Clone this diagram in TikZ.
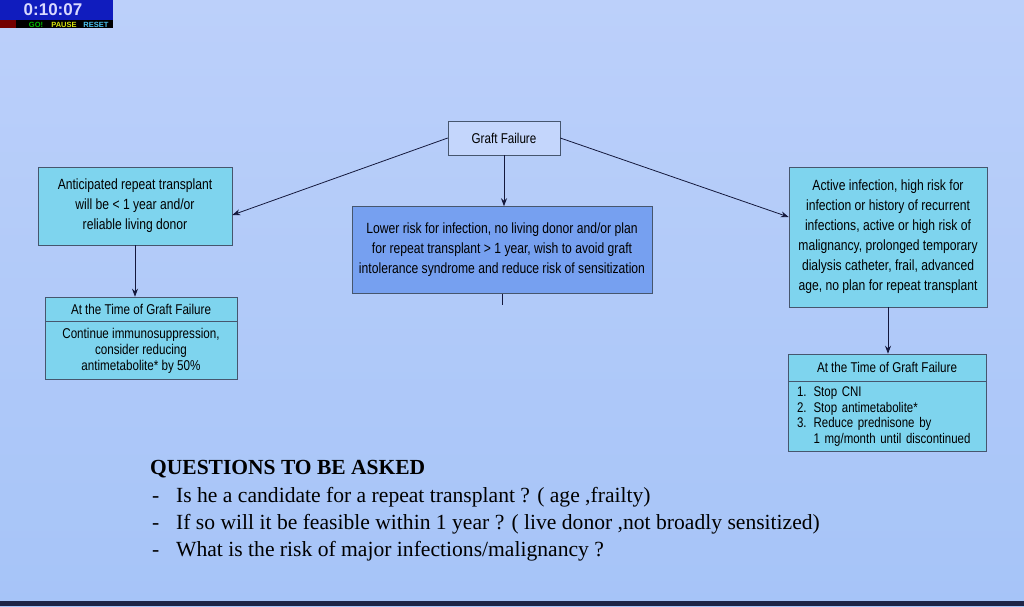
\documentclass[tikz,border=0pt]{standalone}
\usepackage{fontspec}
\setmainfont{Liberation Serif}
\newfontfamily\boxfont[FakeStretch=0.82]{Liberation Sans}
\newfontfamily\clockfont{Liberation Sans}
\usetikzlibrary{positioning,arrows.meta}

\definecolor{slidetop}{RGB}{188,208,250}
\definecolor{slidebot}{RGB}{166,196,248}
\definecolor{slideedge}{RGB}{30,36,70}
\definecolor{boxline}{RGB}{70,86,110}
\definecolor{boxcyan}{RGB}{126,212,238}
\definecolor{boxblue}{RGB}{118,160,240}
\definecolor{boxpale}{RGB}{196,214,252}
\definecolor{arrowline}{RGB}{20,24,60}
\definecolor{clockblue}{RGB}{16,28,190}

\tikzset{
	box/.style={draw=boxline, line width=.6pt, align=center, inner sep=4pt,
		font=\boxfont\fontsize{14.8}{20}\selectfont},
	cyanbox/.style={box, fill=boxcyan},
	bluebox/.style={box, fill=boxblue},
	smallbox/.style={box, fill=boxcyan, font=\boxfont\fontsize{14.2}{16}\selectfont},
	clocktext/.style={font=\clockfont\bfseries\fontsize{7.5}{7.5}\selectfont, inner sep=0pt},
	arr/.style={-{Stealth[length=8pt,width=6pt]}, line width=.8pt, draw=arrowline},
	question/.style={anchor=base west, inner sep=0pt, font=\fontsize{21.6}{24}\selectfont}
}

\begin{document}
\begin{tikzpicture}[x=1pt, y=-1pt]
		\useasboundingbox (0,0) rectangle (1024,606);
		\shade[top color=slidetop, bottom color=slidebot] (0,0) rectangle (1024,606);
		\fill[slideedge] (0,601) rectangle (1024,606);

		% clock in the corner
		\fill[clockblue] (0,0) rectangle (113,28);
		\fill[black] (0,20) rectangle (113,28);
		\fill[red!45!black] (0,20) rectangle (16,28);
		\node[font=\clockfont\bfseries\fontsize{17}{17}\selectfont, text=blue!15, inner sep=0pt] (clock) at (53,10) {0:10:07};
		\node[clocktext, text=green!75!black] (go) at (36,24.5) {GO!};
		\node[clocktext, text=yellow!85!green] (pause) at (64,24.5) {PAUSE};
		\node[clocktext, text=cyan!70!white] (reset) at (96,24.5) {RESET};

		% flow chart
		\node[box, fill=boxpale, minimum width=112pt, minimum height=34pt, font=\boxfont\fontsize{14.2}{16}\selectfont] (gf) at (504,138) {Graft Failure};
		\node[cyanbox, minimum width=194pt, minimum height=78pt] (early) at (135,206)
			{Anticipated repeat transplant\\will be < 1 year and/or\\reliable living donor};
		\node[bluebox, minimum width=300pt, minimum height=87pt] (late) at (502,250)
			{Lower risk for infection, no living donor and/or plan\\for repeat transplant > 1 year, wish to avoid graft\\intolerance syndrome and reduce risk of sensitization};
		\node[cyanbox, minimum width=198pt, minimum height=140pt] (high) at (888,237)
			{Active infection, high risk for\\infection or history of recurrent\\infections, active or high risk of\\malignancy, prolonged temporary\\dialysis catheter, frail, advanced\\age, no plan for repeat transplant};

		\node[smallbox, minimum width=192pt, minimum height=24pt] (lhead) at (141,309) {At the Time of Graft Failure};
		\node[smallbox, minimum width=192pt, minimum height=58pt, below=0pt of lhead] (lbody)
			{Continue immunosuppression,\\consider reducing\\antimetabolite* by 50\%};

		\node[smallbox, minimum width=198pt, minimum height=27pt] (rhead) at (887,367.5) {At the Time of Graft Failure};
		\node[smallbox, text width=180pt, inner xsep=9pt, align=left, minimum height=70pt, below=0pt of rhead,
			font=\boxfont\fontsize{14}{15.5}\selectfont] (rbody)
			{1. Stop CNI\\2. Stop antimetabolite*\\3. Reduce prednisone by\\\phantom{3. }1 mg/month until discontinued};

		\draw[arr] (gf.west) -- ([yshift=-9pt]early.east);
		\draw[arr] (gf.east) -- ([yshift=20pt]high.west);
		\draw[arr] (gf.south) -- (gf.south |- late.north);
		\draw[line width=.8pt, arrowline] (late.south) -- ++(0,11);
		\draw[arr] (early.south) -- (early.south |- lhead.north);
		\draw[arr] (high.south) -- (high.south |- rhead.north);

		% questions below the chart
		\node[question, font=\bfseries\fontsize{21.5}{24}\selectfont] (qtitle) at (150,474) {QUESTIONS TO BE ASKED};
		\node[question] (d1) at (152,502) {-};
		\node[question] (q1) at (176,502) {Is he a candidate for a repeat transplant ? ( age ,frailty)};
		\node[question] (d2) at (152,529) {-};
		\node[question] (q2) at (176,529) {If so will it be feasible within 1 year ? ( live donor ,not broadly sensitized)};
		\node[question] (d3) at (152,556) {-};
		\node[question] (q3) at (176,556) {What is the risk of major infections/malignancy ?};
\end{tikzpicture}
\end{document}
